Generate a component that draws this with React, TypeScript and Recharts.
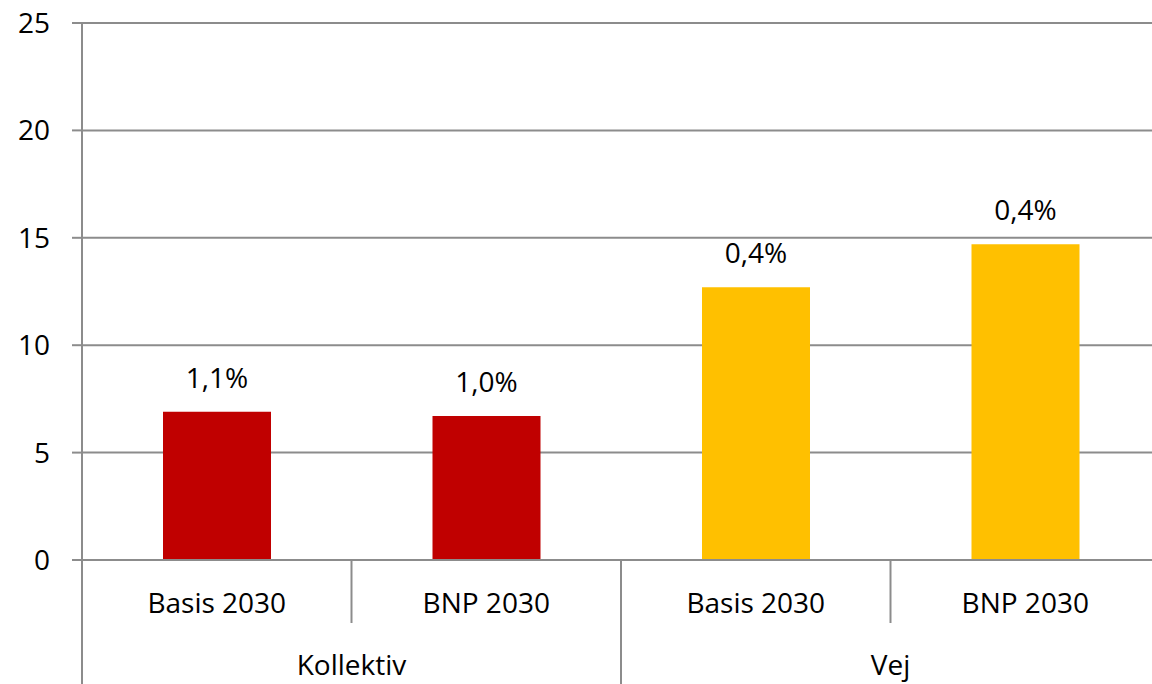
import React from "react";
import { BarChart, Bar, XAxis, YAxis, CartesianGrid, Cell, LabelList } from "recharts";

const categories = ["Basis 2030", "BNP 2030", "Basis 2030", "BNP 2030"];
const groups = ["Kollektiv", "Vej"];
const groupIndex = [0, 0, 1, 1];
const values = [6.9, 6.7, 12.7, 14.7];
const valueLabels = ["1,1%", "1,0%", "0,4%", "0,4%"];
const groupColors = ["#C00000", "#FFC000"];
const yTicks = [0, 5, 10, 15, 20, 25];

const data = categories.map((name, i) => ({
  name,
  value: values[i],
  label: valueLabels[i],
  group: groupIndex[i],
}));

const CHART_W = 1170;
const CHART_H = 684;
const MARGIN = { top: 23, right: 10, bottom: 0, left: 0 };
const Y_W = 82;
const X_H = 124;
const FONT = "'Open Sans', sans-serif";
const GRID = "#8C8C8C";
const BAND = (CHART_W - MARGIN.left - MARGIN.right - Y_W) / categories.length;

const CategoryTick = (props: any) => {
  const { x, y, payload } = props;
  const index: number = payload.index;
  const half: number = payload.offset ? payload.offset : BAND / 2;
  const g = groupIndex[index];
  const isLast = index === categories.length - 1;
  const nextG = isLast ? -1 : groupIndex[index + 1];
  const prevG = index === 0 ? -1 : groupIndex[index - 1];
  const elements: React.ReactNode[] = [];
  elements.push(
    <text key="t" x={x} y={y + 53} textAnchor="middle" fontSize={28} fontFamily={FONT} fill="#000">
      {payload.value}
    </text>
  );
  if (index === 0) {
    elements.push(<line key="l0" x1={x - half} x2={x - half} y1={y} y2={y + X_H} stroke={GRID} strokeWidth={2} />);
  }
  if (!isLast) {
    const long = nextG !== g;
    elements.push(
      <line key="r" x1={x + half} x2={x + half} y1={y} y2={long ? y + X_H : y + 63} stroke={GRID} strokeWidth={2} />
    );
  }
  if (prevG === g) {
    elements.push(
      <text key="g" x={x - half} y={y + 115} textAnchor="middle" fontSize={28} fontFamily={FONT} fill="#000">
        {groups[g]}
      </text>
    );
  }
  return <g>{elements}</g>;
};

export default function App() {
  return (
    <div style={{ position: "absolute", left: 0, top: 0, width: 1152, height: 684, overflow: "hidden", background: "#fff" }}>
      <BarChart width={CHART_W} height={CHART_H} data={data} margin={MARGIN} barCategoryGap={0}>
        <CartesianGrid vertical={false} stroke={GRID} strokeWidth={2} />
        <XAxis
          dataKey="name"
          interval={0}
          height={X_H}
          tickLine={false}
          tickSize={0}
          tickMargin={0}
          axisLine={{ stroke: GRID, strokeWidth: 2 }}
          tick={<CategoryTick />}
        />
        <YAxis
          width={Y_W}
          domain={[0, 25]}
          ticks={yTicks}
          interval={0}
          tickSize={10}
          tickMargin={22}
          axisLine={{ stroke: GRID, strokeWidth: 2 }}
          tickLine={{ stroke: GRID, strokeWidth: 2 }}
          tick={{ fontSize: 28, fontFamily: FONT, fill: "#000" }}
        />
        <Bar dataKey="value" barSize={108} isAnimationActive={false}>
          {data.map((d, i) => (
            <Cell key={i} fill={groupColors[d.group]} />
          ))}
          <LabelList dataKey="label" position="top" offset={24} fontSize={28} fontFamily={FONT} fill="#000" />
        </Bar>
      </BarChart>
    </div>
  );
}
